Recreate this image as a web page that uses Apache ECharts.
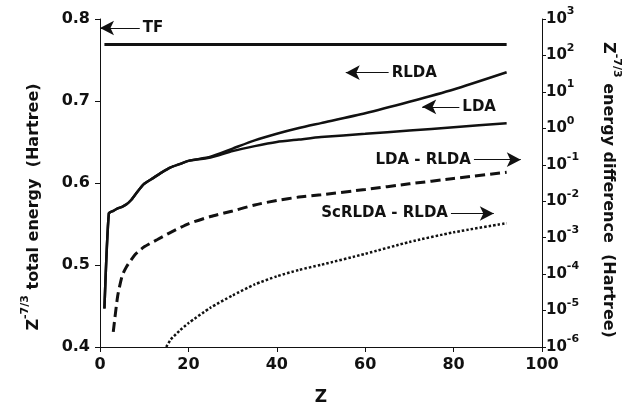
<!DOCTYPE html>
<html>
<head>
<meta charset="utf-8">
<script src="https://cdn.jsdelivr.net/npm/echarts@6/dist/echarts.min.js"></script>
<style>
  html, body { margin: 0; padding: 0; background: #fff; }
  #chart { width: 633px; height: 408px; }
</style>
</head>
<body>
<div id="chart"></div>
<script>
var dom = document.getElementById("chart");
var myChart = echarts.init(dom);

// total energies (left axis), Z^-7/3 scaled
var zTF = [1, 92];
var tf = [0.769, 0.769];

var zLDA = [1, 2, 3, 4, 5, 6, 7, 8, 9, 10, 12, 14, 16, 18, 20, 25, 30, 35, 40, 45, 50, 60, 70, 80, 92];
var lda = [0.447, 0.563, 0.566, 0.569, 0.571, 0.574, 0.579, 0.586, 0.593, 0.599, 0.606, 0.613, 0.619, 0.623, 0.627,
           0.631, 0.639, 0.645, 0.650, 0.653, 0.656, 0.660, 0.664, 0.668, 0.673];
var rlda = [0.447, 0.563, 0.566, 0.569, 0.571, 0.574, 0.579, 0.586, 0.593, 0.599, 0.606, 0.613, 0.619, 0.623, 0.627,
            0.632, 0.642, 0.652, 0.660, 0.667, 0.673, 0.685, 0.699, 0.714, 0.735];

// energy differences (right axis, log)
var zDiff1 = [3, 4, 5, 6, 8, 10, 13, 16, 20, 25, 30, 35, 40, 45, 50, 60, 70, 80, 92];
var ldaMinusRlda = [2.6e-6, 2.5e-5, 8.9e-5, 1.6e-4, 3.5e-4, 5.6e-4, 8.9e-4, 1.4e-3, 2.4e-3, 3.8e-3,
                    5.4e-3, 7.9e-3, 1.05e-2, 1.3e-2, 1.5e-2, 2.1e-2, 3.0e-2, 4.2e-2, 6.2e-2];
var zDiff2 = [15, 16, 18, 20, 25, 30, 35, 40, 45, 50, 60, 70, 80, 92];
var scMinusRlda = [1.0e-6, 1.6e-6, 2.8e-6, 4.5e-6, 1.2e-5, 2.6e-5, 5.2e-5, 8.7e-5, 1.3e-4, 1.8e-4,
                   3.6e-4, 7.6e-4, 1.4e-3, 2.5e-3];

function pairs(xs, ys) {
  return xs.map(function (x, i) { return [x, ys[i]]; });
}

var FONT = 'DejaVu Sans';
var INK = '#111';

var labelBase = { fontFamily: FONT, fontWeight: 'bold', fontSize: 16, color: INK };

function note(text, from, to) {
  return {
    silent: true,
    symbol: ['none', 'arrow'],
    symbolSize: [11, 14],
    lineStyle: { color: INK, width: 1, type: 'solid' },
    label: {
      show: true, position: 'start', distance: 3, formatter: text,
      fontFamily: FONT, fontWeight: 'bold', fontSize: 15, color: INK
    },
    data: [[{ coord: from }, { coord: to }]]
  };
}

// superscript: small token pinned to the top of a taller line
var supRich = {
  b: { fontFamily: FONT, fontWeight: 'bold', fontSize: 16, color: INK, lineHeight: 28 },
  s: { fontFamily: FONT, fontWeight: 'bold', fontSize: 11, color: INK, lineHeight: 11, verticalAlign: 'top' }
};

option = {
  animation: false,
  backgroundColor: '#fff',
  grid: { left: 100, right: 91, top: 19, bottom: 61, outerBoundsMode: 'none' },
  xAxis: {
    type: 'value',
    min: 0, max: 100, interval: 20,
    name: 'Z', nameLocation: 'middle', nameGap: 42,
    nameTextStyle: { fontFamily: FONT, fontWeight: 'bold', fontSize: 17, color: INK },
    axisLine: { show: true, lineStyle: { color: INK, width: 1 } },
    axisTick: { show: true, inside: false, length: 5, lineStyle: { color: INK } },
    axisLabel: Object.assign({ margin: 10 }, labelBase),
    splitLine: { show: false }
  },
  yAxis: [{
    type: 'value',
    position: 'left',
    min: 0.4, max: 0.8, interval: 0.1,
    name: '{b|Z}{s|-7/3}{b| total energy  (Hartree)}',
    nameLocation: 'middle', nameGap: 52,
    nameTextStyle: { rich: supRich, padding: [0, 48, 0, 0] },
    axisLine: { show: true, lineStyle: { color: INK, width: 1 } },
    axisTick: { show: true, inside: false, length: 5, lineStyle: { color: INK } },
    axisLabel: Object.assign({ margin: 10, formatter: function (v) { return v.toFixed(1); } }, labelBase),
    splitLine: { show: false }
  }, {
    type: 'log',
    logBase: 10,
    position: 'right',
    min: 1e-6, max: 1e3,
    name: '{b|Z}{s|-7/3}{b| energy difference  (Hartree)}',
    nameLocation: 'middle', nameGap: 52, nameRotate: -90,
    nameTextStyle: { rich: supRich, padding: [0, 0, 0, 14] },
    axisLine: { show: true, lineStyle: { color: INK, width: 1 } },
    axisTick: { show: true, inside: false, length: 4, lineStyle: { color: INK } },
    axisLabel: {
      margin: 4,
      formatter: function (v) {
        return '{b|10}{s|' + Math.round(Math.log10(v)) + '}';
      },
      rich: {
        b: { fontFamily: FONT, fontWeight: 'bold', fontSize: 15, color: INK, lineHeight: 26 },
        s: { fontFamily: FONT, fontWeight: 'bold', fontSize: 11, color: INK, lineHeight: 10, verticalAlign: 'top' }
      }
    },
    splitLine: { show: false }
  }],
  series: [{
    name: 'TF', type: 'line', yAxisIndex: 0,
    data: pairs(zTF, tf), showSymbol: false,
    lineStyle: { color: INK, width: 3 },
    markLine: note('TF', [9, 0.789], [0, 0.789])
  }, {
    name: 'RLDA', type: 'line', yAxisIndex: 0,
    data: pairs(zLDA, rlda), showSymbol: false, smooth: 0.2,
    lineStyle: { color: INK, width: 2.5 },
    markLine: note('RLDA', [65.3, 0.7346], [55.6, 0.7346])
  }, {
    name: 'LDA', type: 'line', yAxisIndex: 0,
    data: pairs(zLDA, lda), showSymbol: false, smooth: 0.2,
    lineStyle: { color: INK, width: 2.5 },
    markLine: note('LDA', [81.3, 0.6929], [72.9, 0.6929])
  }, {
    name: 'LDA - RLDA', type: 'line', yAxisIndex: 1,
    data: pairs(zDiff1, ldaMinusRlda), showSymbol: false, smooth: 0.2,
    lineStyle: { color: INK, width: 3, type: [10, 5] },
    markLine: note('LDA - RLDA', [84.6, 0.138], [95.2, 0.138])
  }, {
    name: 'ScRLDA - RLDA', type: 'line', yAxisIndex: 1,
    data: pairs(zDiff2, scMinusRlda), showSymbol: false, smooth: 0.2,
    lineStyle: { color: INK, width: 2.5, type: [2.5, 2] },
    markLine: note('ScRLDA - RLDA', [79.4, 0.0046], [89.1, 0.0046])
  }]
};

if (option && typeof option === "object") {
  myChart.setOption(option, true);
}
</script>
</body>
</html>
